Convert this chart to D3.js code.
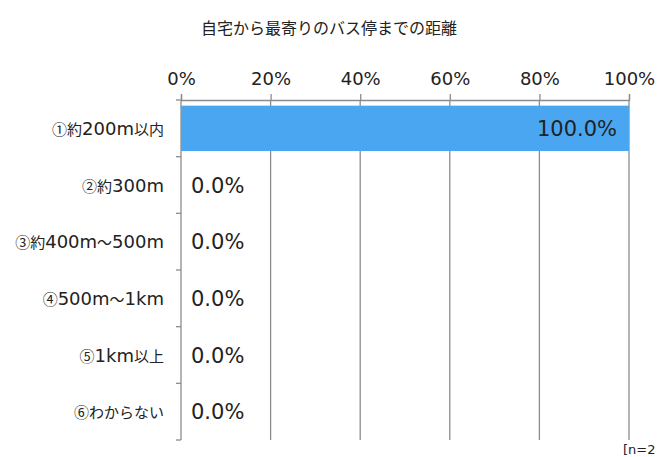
<!DOCTYPE html>
<html>
<head>
<meta charset="utf-8">
<script src="https://cdn.jsdelivr.net/npm/d3@7"></script>
<style>
  body { margin: 0; background: #fff; font-family: "Noto Sans CJK JP", "Noto Sans", sans-serif; }
  svg text { fill: #222; }
</style>
</head>
<body>
<script>
(function(){
  const categories = ['①約200m以内', '②約300m', '③約400m～500m', '④500m～1km', '⑤1km以上', '⑥わからない'];
  const values = [100, 0, 0, 0, 0, 0];
  const tickValues = [0, 20, 40, 60, 80, 100];
  const title = '自宅から最寄りのバス停までの距離';
  const note = '[n=2';

  const width = 657, height = 457;
  const left = 181, right = 629, top = 100, bottom = 440;
  const numFont = '"DejaVu Sans", Verdana, sans-serif';
  const cjkFont = '"Noto Sans CJK JP", sans-serif';

  const svg = d3.select('body').append('svg')
    .attr('width', width)
    .attr('height', height);

  const x = d3.scaleLinear().domain([0, 100]).range([left, right]);
  const y = d3.scaleBand().domain(categories).range([top, bottom]).paddingInner(0.2).paddingOuter(0.1);

  //title
  svg.append('text')
    .attr('x', 329).attr('y', 34)
    .attr('text-anchor', 'middle')
    .style('font-size', '16px')
    .text(title);

  //vertical grid lines
  svg.selectAll('.grid')
    .data(tickValues.slice(1))
    .enter().append('line')
    .attr('x1', d => x(d)).attr('x2', d => x(d))
    .attr('y1', top).attr('y2', bottom)
    .attr('stroke', '#8c8c8c')
    .attr('stroke-width', 1.3);

  //top axis
  const xAxis = d3.axisTop(x)
    .tickValues(tickValues)
    .tickFormat(d => d + '%')
    .tickSize(6)
    .tickPadding(9);
  const gx = svg.append('g')
    .attr('transform', 'translate(0,' + top + ')')
    .call(xAxis);
  gx.select('.domain').attr('stroke', '#8c8c8c').attr('stroke-width', 1.3);
  gx.selectAll('.tick line').attr('stroke', '#8c8c8c').attr('stroke-width', 1.3);
  gx.selectAll('.tick text')
    .style('font-size', '18px')
    .style('font-family', numFont)
    .attr('fill', '#222');

  //left axis with ticks between categories
  const step = (bottom - top) / categories.length;
  svg.append('line')
    .attr('x1', left).attr('x2', left)
    .attr('y1', top).attr('y2', bottom)
    .attr('stroke', '#8c8c8c').attr('stroke-width', 1.3);
  svg.selectAll('.ytick')
    .data(d3.range(categories.length + 1))
    .enter().append('line')
    .attr('x1', left - 5).attr('x2', left)
    .attr('y1', d => top + d * step).attr('y2', d => top + d * step)
    .attr('stroke', '#8c8c8c').attr('stroke-width', 1.3);

  //split a label into latin / cjk runs so each gets its own font
  function runs(s){
    return s.match(/[\x00-\x7F]+|[^\x00-\x7F]+/g);
  }

  //category labels
  const cats = svg.selectAll('.cat')
    .data(categories)
    .enter().append('text')
    .attr('class', 'cat')
    .attr('x', left - 17)
    .attr('y', d => y(d) + y.bandwidth() / 2 + 6.5)
    .attr('text-anchor', 'end');
  cats.selectAll('tspan')
    .data(d => runs(d))
    .enter().append('tspan')
    .style('font-family', d => /[\x00-\x7F]/.test(d) ? numFont : cjkFont)
    .style('font-size', d => /[\x00-\x7F]/.test(d) ? '18px' : '15px')
    .text(d => d);

  //bars
  svg.selectAll('.bar')
    .data(values)
    .enter().append('rect')
    .attr('x', x(0))
    .attr('y', (d, i) => y(categories[i]))
    .attr('width', d => x(d) - x(0))
    .attr('height', y.bandwidth())
    .attr('fill', '#4aa6f0');

  //value labels
  svg.selectAll('.val')
    .data(values)
    .enter().append('text')
    .attr('x', d => d > 50 ? x(d) - 12 : x(0) + 10)
    .attr('y', (d, i) => y(categories[i]) + y.bandwidth() / 2)
    .attr('dy', '0.36em')
    .attr('text-anchor', d => d > 50 ? 'end' : 'start')
    .style('font-size', '21px')
    .style('font-family', numFont)
    .text(d => d.toFixed(1) + '%');

  //sample size note
  svg.append('text')
    .attr('x', 623).attr('y', 454)
    .style('font-size', '13px')
    .style('font-family', numFont)
    .text(note);
})();
</script>
</body>
</html>
